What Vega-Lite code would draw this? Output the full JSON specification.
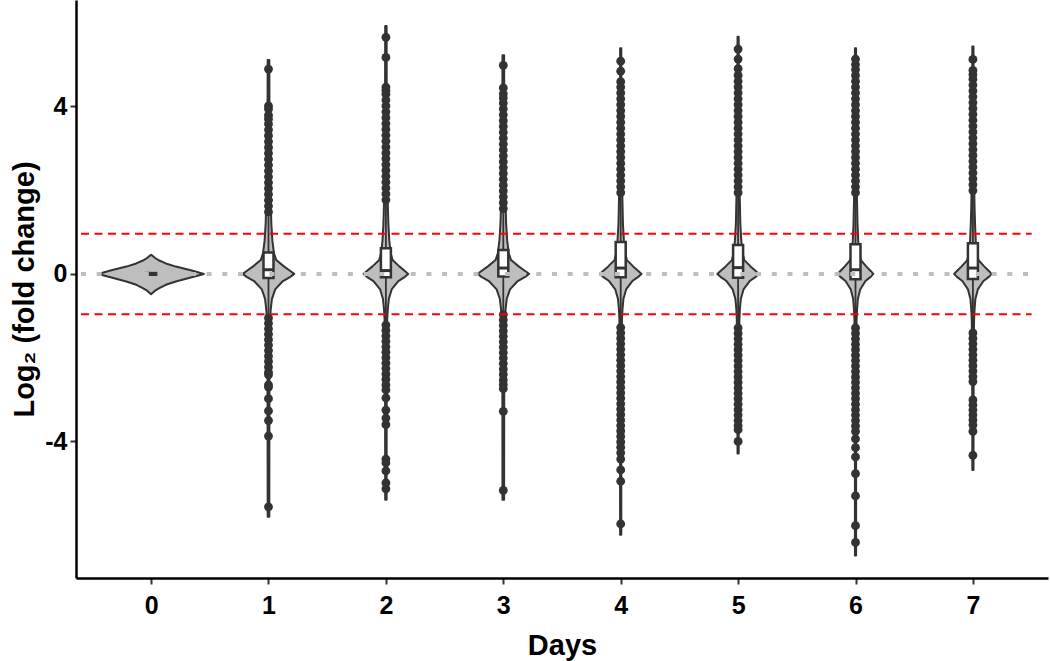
{
  "$schema": "https://vega.github.io/schema/vega-lite/v6.json",
  "width": 972,
  "height": 578,
  "autosize": {"type": "none"},
  "padding": {"left": 76, "top": 0, "right": 2, "bottom": 83},
  "background": "white",
  "config": {"view": {"stroke": null}, "font": "Liberation Sans"},
  "datasets": {
    "violin": [
      {"day":0,"value":0.455,"lo":0,"hi":0},{"day":0,"value":0.43,"lo":-0.014,"hi":0.014},{"day":0,"value":0.38,"lo":-0.034,"hi":0.034},{"day":0,"value":0.32,"lo":-0.07,"hi":0.07},{"day":0,"value":0.25,"lo":-0.126,"hi":0.126},{"day":0,"value":0.175,"lo":-0.211,"hi":0.211},{"day":0,"value":0.08,"lo":-0.346,"hi":0.346},{"day":0,"value":0,"lo":-0.45,"hi":0.45},{"day":0,"value":-0.08,"lo":-0.346,"hi":0.346},{"day":0,"value":-0.18,"lo":-0.211,"hi":0.211},{"day":0,"value":-0.26,"lo":-0.126,"hi":0.126},{"day":0,"value":-0.34,"lo":-0.07,"hi":0.07},{"day":0,"value":-0.4,"lo":-0.034,"hi":0.034},{"day":0,"value":-0.45,"lo":-0.014,"hi":0.014},{"day":0,"value":-0.485,"lo":0,"hi":0},
      {"day":1,"value":5.11,"lo":0.993,"hi":1.007},{"day":1,"value":3,"lo":0.991,"hi":1.009},{"day":1,"value":2.2,"lo":0.987,"hi":1.013},{"day":1,"value":1.6,"lo":0.98,"hi":1.02},{"day":1,"value":1.2,"lo":0.976,"hi":1.024},{"day":1,"value":0.8,"lo":0.967,"hi":1.033},{"day":1,"value":0.5,"lo":0.954,"hi":1.046},{"day":1,"value":0.33,"lo":0.934,"hi":1.066},{"day":1,"value":0.18,"lo":0.869,"hi":1.131},{"day":1,"value":0.07,"lo":0.814,"hi":1.186},{"day":1,"value":0,"lo":0.781,"hi":1.219},{"day":1,"value":-0.07,"lo":0.814,"hi":1.186},{"day":1,"value":-0.17,"lo":0.877,"hi":1.123},{"day":1,"value":-0.37,"lo":0.943,"hi":1.057},{"day":1,"value":-0.6,"lo":0.971,"hi":1.029},{"day":1,"value":-0.85,"lo":0.981,"hi":1.019},{"day":1,"value":-1.1,"lo":0.987,"hi":1.013},{"day":1,"value":-1.6,"lo":0.99,"hi":1.01},{"day":1,"value":-2.5,"lo":0.992,"hi":1.008},{"day":1,"value":-5.8,"lo":0.993,"hi":1.007},
      {"day":2,"value":5.92,"lo":1.994,"hi":2.006},{"day":2,"value":3,"lo":1.992,"hi":2.008},{"day":2,"value":2.2,"lo":1.989,"hi":2.011},{"day":2,"value":1.6,"lo":1.983,"hi":2.017},{"day":2,"value":1.2,"lo":1.979,"hi":2.021},{"day":2,"value":0.8,"lo":1.971,"hi":2.029},{"day":2,"value":0.5,"lo":1.96,"hi":2.04},{"day":2,"value":0.33,"lo":1.943,"hi":2.057},{"day":2,"value":0.18,"lo":1.886,"hi":2.114},{"day":2,"value":0.07,"lo":1.838,"hi":2.162},{"day":2,"value":0,"lo":1.81,"hi":2.19},{"day":2,"value":-0.07,"lo":1.838,"hi":2.162},{"day":2,"value":-0.17,"lo":1.894,"hi":2.106},{"day":2,"value":-0.37,"lo":1.951,"hi":2.049},{"day":2,"value":-0.6,"lo":1.975,"hi":2.025},{"day":2,"value":-0.85,"lo":1.984,"hi":2.016},{"day":2,"value":-1.1,"lo":1.989,"hi":2.011},{"day":2,"value":-1.6,"lo":1.991,"hi":2.009},{"day":2,"value":-2.5,"lo":1.993,"hi":2.007},{"day":2,"value":-5.39,"lo":1.994,"hi":2.006},
      {"day":3,"value":5.22,"lo":2.993,"hi":3.007},{"day":3,"value":3,"lo":2.991,"hi":3.009},{"day":3,"value":2.2,"lo":2.987,"hi":3.013},{"day":3,"value":1.6,"lo":2.98,"hi":3.02},{"day":3,"value":1.2,"lo":2.976,"hi":3.024},{"day":3,"value":0.8,"lo":2.967,"hi":3.033},{"day":3,"value":0.5,"lo":2.954,"hi":3.046},{"day":3,"value":0.33,"lo":2.934,"hi":3.066},{"day":3,"value":0.18,"lo":2.869,"hi":3.131},{"day":3,"value":0.07,"lo":2.814,"hi":3.186},{"day":3,"value":0,"lo":2.781,"hi":3.219},{"day":3,"value":-0.07,"lo":2.814,"hi":3.186},{"day":3,"value":-0.17,"lo":2.877,"hi":3.123},{"day":3,"value":-0.37,"lo":2.943,"hi":3.057},{"day":3,"value":-0.6,"lo":2.971,"hi":3.029},{"day":3,"value":-0.85,"lo":2.981,"hi":3.019},{"day":3,"value":-1.1,"lo":2.987,"hi":3.013},{"day":3,"value":-1.6,"lo":2.99,"hi":3.01},{"day":3,"value":-2.5,"lo":2.992,"hi":3.008},{"day":3,"value":-5.39,"lo":2.993,"hi":3.007},
      {"day":4,"value":5.39,"lo":3.995,"hi":4.005},{"day":4,"value":3,"lo":3.993,"hi":4.007},{"day":4,"value":2.2,"lo":3.989,"hi":4.011},{"day":4,"value":1.6,"lo":3.984,"hi":4.016},{"day":4,"value":1.2,"lo":3.981,"hi":4.019},{"day":4,"value":0.8,"lo":3.973,"hi":4.027},{"day":4,"value":0.5,"lo":3.963,"hi":4.037},{"day":4,"value":0.33,"lo":3.947,"hi":4.053},{"day":4,"value":0.18,"lo":3.894,"hi":4.106},{"day":4,"value":0.07,"lo":3.85,"hi":4.15},{"day":4,"value":0,"lo":3.823,"hi":4.177},{"day":4,"value":-0.07,"lo":3.85,"hi":4.15},{"day":4,"value":-0.17,"lo":3.901,"hi":4.099},{"day":4,"value":-0.37,"lo":3.954,"hi":4.046},{"day":4,"value":-0.6,"lo":3.977,"hi":4.023},{"day":4,"value":-0.85,"lo":3.985,"hi":4.015},{"day":4,"value":-1.1,"lo":3.989,"hi":4.011},{"day":4,"value":-1.6,"lo":3.992,"hi":4.008},{"day":4,"value":-2.5,"lo":3.994,"hi":4.006},{"day":4,"value":-6.23,"lo":3.995,"hi":4.005},
      {"day":5,"value":5.66,"lo":4.995,"hi":5.005},{"day":5,"value":3,"lo":4.993,"hi":5.007},{"day":5,"value":2.2,"lo":4.989,"hi":5.011},{"day":5,"value":1.6,"lo":4.984,"hi":5.016},{"day":5,"value":1.2,"lo":4.981,"hi":5.019},{"day":5,"value":0.8,"lo":4.973,"hi":5.027},{"day":5,"value":0.5,"lo":4.963,"hi":5.037},{"day":5,"value":0.33,"lo":4.947,"hi":5.053},{"day":5,"value":0.18,"lo":4.894,"hi":5.106},{"day":5,"value":0.07,"lo":4.85,"hi":5.15},{"day":5,"value":0,"lo":4.823,"hi":5.177},{"day":5,"value":-0.07,"lo":4.85,"hi":5.15},{"day":5,"value":-0.17,"lo":4.901,"hi":5.099},{"day":5,"value":-0.37,"lo":4.954,"hi":5.046},{"day":5,"value":-0.6,"lo":4.977,"hi":5.023},{"day":5,"value":-0.85,"lo":4.985,"hi":5.015},{"day":5,"value":-1.1,"lo":4.989,"hi":5.011},{"day":5,"value":-1.6,"lo":4.992,"hi":5.008},{"day":5,"value":-2.5,"lo":4.994,"hi":5.006},{"day":5,"value":-4.29,"lo":4.995,"hi":5.005},
      {"day":6,"value":5.39,"lo":5.995,"hi":6.005},{"day":6,"value":3,"lo":5.994,"hi":6.006},{"day":6,"value":2.2,"lo":5.991,"hi":6.009},{"day":6,"value":1.6,"lo":5.986,"hi":6.014},{"day":6,"value":1.2,"lo":5.983,"hi":6.017},{"day":6,"value":0.8,"lo":5.977,"hi":6.023},{"day":6,"value":0.5,"lo":5.968,"hi":6.032},{"day":6,"value":0.33,"lo":5.954,"hi":6.046},{"day":6,"value":0.18,"lo":5.909,"hi":6.091},{"day":6,"value":0.07,"lo":5.871,"hi":6.129},{"day":6,"value":0,"lo":5.848,"hi":6.152},{"day":6,"value":-0.07,"lo":5.871,"hi":6.129},{"day":6,"value":-0.17,"lo":5.915,"hi":6.085},{"day":6,"value":-0.37,"lo":5.96,"hi":6.04},{"day":6,"value":-0.6,"lo":5.98,"hi":6.02},{"day":6,"value":-0.85,"lo":5.987,"hi":6.013},{"day":6,"value":-1.1,"lo":5.991,"hi":6.009},{"day":6,"value":-1.6,"lo":5.993,"hi":6.007},{"day":6,"value":-2.5,"lo":5.995,"hi":6.005},{"day":6,"value":-6.72,"lo":5.995,"hi":6.005},
      {"day":7,"value":5.43,"lo":6.995,"hi":7.005},{"day":7,"value":3,"lo":6.994,"hi":7.006},{"day":7,"value":2.2,"lo":6.99,"hi":7.01},{"day":7,"value":1.6,"lo":6.986,"hi":7.014},{"day":7,"value":1.2,"lo":6.982,"hi":7.018},{"day":7,"value":0.8,"lo":6.976,"hi":7.024},{"day":7,"value":0.5,"lo":6.966,"hi":7.034},{"day":7,"value":0.33,"lo":6.952,"hi":7.048},{"day":7,"value":0.18,"lo":6.904,"hi":7.096},{"day":7,"value":0.07,"lo":6.864,"hi":7.136},{"day":7,"value":0,"lo":6.84,"hi":7.16},{"day":7,"value":-0.07,"lo":6.864,"hi":7.136},{"day":7,"value":-0.17,"lo":6.91,"hi":7.09},{"day":7,"value":-0.37,"lo":6.958,"hi":7.042},{"day":7,"value":-0.6,"lo":6.979,"hi":7.021},{"day":7,"value":-0.85,"lo":6.986,"hi":7.014},{"day":7,"value":-1.1,"lo":6.99,"hi":7.01},{"day":7,"value":-1.6,"lo":6.993,"hi":7.007},{"day":7,"value":-2.5,"lo":6.994,"hi":7.006},{"day":7,"value":-4.68,"lo":6.995,"hi":7.005}
    ],
    "box": [
      {"day":0,"q1":-0.02,"median":0,"q3":0.02,"min":0,"max":0},
      {"day":1,"q1":-0.1,"median":0.1,"q3":0.51,"min":-5.8,"max":5.11},
      {"day":2,"q1":-0.08,"median":0.08,"q3":0.61,"min":-5.39,"max":5.92},
      {"day":3,"q1":-0.06,"median":0.14,"q3":0.57,"min":-5.39,"max":5.22},
      {"day":4,"q1":-0.08,"median":0.14,"q3":0.76,"min":-6.23,"max":5.39},
      {"day":5,"q1":-0.09,"median":0.15,"q3":0.69,"min":-4.29,"max":5.66},
      {"day":6,"q1":-0.13,"median":0.1,"q3":0.71,"min":-6.72,"max":5.39},
      {"day":7,"q1":-0.12,"median":0.14,"q3":0.73,"min":-4.68,"max":5.43}
    ],
    "outliers": [
      {"day":1,"value":4.89},{"day":1,"value":4.01},{"day":1,"value":3.94},{"day":1,"value":3.79},{"day":1,"value":3.7},{"day":1,"value":3.58},{"day":1,"value":3.44},{"day":1,"value":3.3},{"day":1,"value":3.16},{"day":1,"value":3.02},{"day":1,"value":2.88},{"day":1,"value":2.74},{"day":1,"value":2.6},{"day":1,"value":2.46},{"day":1,"value":2.32},{"day":1,"value":2.18},{"day":1,"value":2.04},{"day":1,"value":1.9},{"day":1,"value":1.76},{"day":1,"value":1.62},{"day":1,"value":1.48},{"day":1,"value":-1.05},{"day":1,"value":-1.18},{"day":1,"value":-1.31},{"day":1,"value":-1.44},{"day":1,"value":-1.57},{"day":1,"value":-1.7},{"day":1,"value":-1.83},{"day":1,"value":-1.96},{"day":1,"value":-2.09},{"day":1,"value":-2.22},{"day":1,"value":-2.35},{"day":1,"value":-2.41},{"day":1,"value":-2.65},{"day":1,"value":-2.7},{"day":1,"value":-2.98},{"day":1,"value":-3.27},{"day":1,"value":-3.5},{"day":1,"value":-3.87},{"day":1,"value":-5.56},
      {"day":2,"value":5.65},{"day":2,"value":5.17},{"day":2,"value":4.46},{"day":2,"value":4.38},{"day":2,"value":4.29},{"day":2,"value":4.15},{"day":2,"value":4.01},{"day":2,"value":3.87},{"day":2,"value":3.73},{"day":2,"value":3.59},{"day":2,"value":3.45},{"day":2,"value":3.31},{"day":2,"value":3.17},{"day":2,"value":3.03},{"day":2,"value":2.89},{"day":2,"value":2.75},{"day":2,"value":2.61},{"day":2,"value":2.47},{"day":2,"value":2.33},{"day":2,"value":2.19},{"day":2,"value":2.05},{"day":2,"value":1.91},{"day":2,"value":1.77},{"day":2,"value":-1.22},{"day":2,"value":-1.35},{"day":2,"value":-1.48},{"day":2,"value":-1.61},{"day":2,"value":-1.74},{"day":2,"value":-1.87},{"day":2,"value":-2.0},{"day":2,"value":-2.13},{"day":2,"value":-2.26},{"day":2,"value":-2.39},{"day":2,"value":-2.52},{"day":2,"value":-2.65},{"day":2,"value":-2.77},{"day":2,"value":-2.96},{"day":2,"value":-3.25},{"day":2,"value":-3.44},{"day":2,"value":-3.6},{"day":2,"value":-4.42},{"day":2,"value":-4.51},{"day":2,"value":-4.7},{"day":2,"value":-4.99},{"day":2,"value":-5.13},
      {"day":3,"value":4.98},{"day":3,"value":4.44},{"day":3,"value":4.3},{"day":3,"value":4.2},{"day":3,"value":4.08},{"day":3,"value":3.94},{"day":3,"value":3.8},{"day":3,"value":3.66},{"day":3,"value":3.52},{"day":3,"value":3.38},{"day":3,"value":3.24},{"day":3,"value":3.1},{"day":3,"value":2.96},{"day":3,"value":2.82},{"day":3,"value":2.68},{"day":3,"value":2.54},{"day":3,"value":2.4},{"day":3,"value":2.26},{"day":3,"value":2.12},{"day":3,"value":1.98},{"day":3,"value":1.84},{"day":3,"value":1.7},{"day":3,"value":1.56},{"day":3,"value":-0.97},{"day":3,"value":-1.1},{"day":3,"value":-1.23},{"day":3,"value":-1.36},{"day":3,"value":-1.49},{"day":3,"value":-1.62},{"day":3,"value":-1.75},{"day":3,"value":-1.88},{"day":3,"value":-2.01},{"day":3,"value":-2.14},{"day":3,"value":-2.27},{"day":3,"value":-2.4},{"day":3,"value":-2.53},{"day":3,"value":-2.64},{"day":3,"value":-2.74},{"day":3,"value":-3.28},{"day":3,"value":-5.17},
      {"day":4,"value":5.08},{"day":4,"value":4.84},{"day":4,"value":4.59},{"day":4,"value":4.46},{"day":4,"value":4.32},{"day":4,"value":4.18},{"day":4,"value":4.04},{"day":4,"value":3.9},{"day":4,"value":3.76},{"day":4,"value":3.62},{"day":4,"value":3.48},{"day":4,"value":3.34},{"day":4,"value":3.2},{"day":4,"value":3.06},{"day":4,"value":2.92},{"day":4,"value":2.78},{"day":4,"value":2.64},{"day":4,"value":2.5},{"day":4,"value":2.36},{"day":4,"value":2.22},{"day":4,"value":2.08},{"day":4,"value":1.94},{"day":4,"value":-1.28},{"day":4,"value":-1.41},{"day":4,"value":-1.54},{"day":4,"value":-1.67},{"day":4,"value":-1.8},{"day":4,"value":-1.93},{"day":4,"value":-2.06},{"day":4,"value":-2.19},{"day":4,"value":-2.32},{"day":4,"value":-2.45},{"day":4,"value":-2.58},{"day":4,"value":-2.71},{"day":4,"value":-2.84},{"day":4,"value":-2.97},{"day":4,"value":-3.1},{"day":4,"value":-3.23},{"day":4,"value":-3.36},{"day":4,"value":-3.49},{"day":4,"value":-3.62},{"day":4,"value":-3.75},{"day":4,"value":-3.88},{"day":4,"value":-4.01},{"day":4,"value":-4.14},{"day":4,"value":-4.27},{"day":4,"value":-4.42},{"day":4,"value":-4.68},{"day":4,"value":-4.95},{"day":4,"value":-5.97},
      {"day":5,"value":5.37},{"day":5,"value":5.13},{"day":5,"value":4.9},{"day":5,"value":4.74},{"day":5,"value":4.6},{"day":5,"value":4.46},{"day":5,"value":4.32},{"day":5,"value":4.18},{"day":5,"value":4.04},{"day":5,"value":3.9},{"day":5,"value":3.76},{"day":5,"value":3.62},{"day":5,"value":3.48},{"day":5,"value":3.34},{"day":5,"value":3.2},{"day":5,"value":3.06},{"day":5,"value":2.92},{"day":5,"value":2.78},{"day":5,"value":2.64},{"day":5,"value":2.5},{"day":5,"value":2.36},{"day":5,"value":2.22},{"day":5,"value":2.08},{"day":5,"value":1.94},{"day":5,"value":-1.29},{"day":5,"value":-1.42},{"day":5,"value":-1.55},{"day":5,"value":-1.68},{"day":5,"value":-1.81},{"day":5,"value":-1.94},{"day":5,"value":-2.07},{"day":5,"value":-2.2},{"day":5,"value":-2.33},{"day":5,"value":-2.46},{"day":5,"value":-2.59},{"day":5,"value":-2.72},{"day":5,"value":-2.85},{"day":5,"value":-2.98},{"day":5,"value":-3.11},{"day":5,"value":-3.24},{"day":5,"value":-3.37},{"day":5,"value":-3.5},{"day":5,"value":-3.62},{"day":5,"value":-3.72},{"day":5,"value":-4.0},
      {"day":6,"value":5.13},{"day":6,"value":5.0},{"day":6,"value":4.88},{"day":6,"value":4.74},{"day":6,"value":4.6},{"day":6,"value":4.46},{"day":6,"value":4.32},{"day":6,"value":4.18},{"day":6,"value":4.04},{"day":6,"value":3.9},{"day":6,"value":3.76},{"day":6,"value":3.62},{"day":6,"value":3.48},{"day":6,"value":3.34},{"day":6,"value":3.2},{"day":6,"value":3.06},{"day":6,"value":2.92},{"day":6,"value":2.78},{"day":6,"value":2.64},{"day":6,"value":2.5},{"day":6,"value":2.36},{"day":6,"value":2.22},{"day":6,"value":2.08},{"day":6,"value":1.94},{"day":6,"value":-1.29},{"day":6,"value":-1.42},{"day":6,"value":-1.55},{"day":6,"value":-1.68},{"day":6,"value":-1.81},{"day":6,"value":-1.94},{"day":6,"value":-2.07},{"day":6,"value":-2.2},{"day":6,"value":-2.33},{"day":6,"value":-2.46},{"day":6,"value":-2.59},{"day":6,"value":-2.72},{"day":6,"value":-2.85},{"day":6,"value":-2.98},{"day":6,"value":-3.11},{"day":6,"value":-3.24},{"day":6,"value":-3.37},{"day":6,"value":-3.5},{"day":6,"value":-3.63},{"day":6,"value":-3.76},{"day":6,"value":-3.94},{"day":6,"value":-4.15},{"day":6,"value":-4.37},{"day":6,"value":-4.77},{"day":6,"value":-5.3},{"day":6,"value":-6.01},{"day":6,"value":-6.41},
      {"day":7,"value":5.12},{"day":7,"value":4.86},{"day":7,"value":4.76},{"day":7,"value":4.65},{"day":7,"value":4.51},{"day":7,"value":4.37},{"day":7,"value":4.23},{"day":7,"value":4.09},{"day":7,"value":3.95},{"day":7,"value":3.81},{"day":7,"value":3.67},{"day":7,"value":3.53},{"day":7,"value":3.39},{"day":7,"value":3.25},{"day":7,"value":3.11},{"day":7,"value":2.97},{"day":7,"value":2.83},{"day":7,"value":2.69},{"day":7,"value":2.55},{"day":7,"value":2.41},{"day":7,"value":2.27},{"day":7,"value":2.13},{"day":7,"value":1.99},{"day":7,"value":-1.41},{"day":7,"value":-1.54},{"day":7,"value":-1.67},{"day":7,"value":-1.8},{"day":7,"value":-1.93},{"day":7,"value":-2.06},{"day":7,"value":-2.19},{"day":7,"value":-2.32},{"day":7,"value":-2.45},{"day":7,"value":-2.57},{"day":7,"value":-3.01},{"day":7,"value":-3.13},{"day":7,"value":-3.25},{"day":7,"value":-3.37},{"day":7,"value":-3.49},{"day":7,"value":-3.61},{"day":7,"value":-3.76},{"day":7,"value":-4.33}
    ],
    "zero": [{"y": 0, "x1": -0.597, "x2": 7.52}],
    "thresholds": [{"y": 0.96, "x1": -0.597, "x2": 7.5}, {"y": -0.96, "x1": -0.597, "x2": 7.5}]
  },
  "layer": [
    {
      "data": {"name": "violin"},
      "mark": {"type": "area", "orient": "horizontal", "fill": "#bebebe", "stroke": "#333333", "strokeWidth": 2, "strokeJoin": "round"},
      "encoding": {
        "y": {"field": "value", "type": "quantitative", "title": "Log₂ (fold change)",
          "scale": {"domain": [-7.26, 6.54], "nice": false, "zero": false},
          "axis": {"values": [-4, 0, 4], "labelExpr": "replace(datum.label, '−', '-')", "grid": false,
            "domainColor": "black", "domainWidth": 2.5, "tickColor": "#333333", "tickWidth": 2, "tickSize": 6,
            "labelFont": "Liberation Sans", "labelFontWeight": "bold", "labelFontSize": 25, "labelColor": "black", "labelPadding": 3,
            "titleFont": "Liberation Sans", "titleFontWeight": "bold", "titleFontSize": 29, "titleColor": "black", "titlePadding": 5}},
        "x": {"field": "lo", "type": "quantitative", "title": "Days",
          "scale": {"domain": [-0.597, 7.597], "nice": false, "zero": false},
          "axis": {"values": [0, 1, 2, 3, 4, 5, 6, 7], "format": "d", "grid": false,
            "domainColor": "black", "domainWidth": 2.5, "tickColor": "#333333", "tickWidth": 2, "tickSize": 6,
            "labelFont": "Liberation Sans", "labelFontWeight": "bold", "labelFontSize": 25, "labelColor": "black", "labelPadding": 9,
            "titleFont": "Liberation Sans", "titleFontWeight": "bold", "titleFontSize": 29, "titleColor": "black", "titlePadding": 13}},
        "x2": {"field": "hi"},
        "detail": {"field": "day"}
      }
    },
    {
      "data": {"name": "box"},
      "transform": [{"filter": "datum.day > 0"}],
      "mark": {"type": "rule", "color": "#333333", "strokeWidth": 1.8},
      "encoding": {
        "x": {"field": "day", "type": "quantitative", "title": "Days"},
        "y": {"field": "min", "type": "quantitative", "title": "Log₂ (fold change)"},
        "y2": {"field": "max"}
      }
    },
    {
      "data": {"name": "box"},
      "mark": {"type": "bar", "size": 10, "fill": "white", "stroke": "#333333", "strokeWidth": 2.5},
      "encoding": {
        "x": {"field": "day", "type": "quantitative", "title": "Days"},
        "y": {"field": "q1", "type": "quantitative", "title": "Log₂ (fold change)"},
        "y2": {"field": "q3"}
      }
    },
    {
      "data": {"name": "box"},
      "mark": {"type": "tick", "orient": "horizontal", "size": 11, "thickness": 3, "color": "#333333", "opacity": 1},
      "encoding": {
        "x": {"field": "day", "type": "quantitative", "title": "Days"},
        "y": {"field": "median", "type": "quantitative", "title": "Log₂ (fold change)"}
      }
    },
    {
      "data": {"name": "outliers"},
      "mark": {"type": "circle", "size": 78, "color": "#333333", "opacity": 1},
      "encoding": {
        "x": {"field": "day", "type": "quantitative", "title": "Days"},
        "y": {"field": "value", "type": "quantitative", "title": "Log₂ (fold change)"}
      }
    },
    {
      "data": {"name": "zero"},
      "mark": {"type": "rule", "color": "#bebebe", "strokeWidth": 4, "strokeDash": [5, 10.7]},
      "encoding": {
        "x": {"field": "x1", "type": "quantitative", "title": "Days"},
        "x2": {"field": "x2"},
        "y": {"field": "y", "type": "quantitative", "title": "Log₂ (fold change)"}
      }
    },
    {
      "data": {"name": "thresholds"},
      "mark": {"type": "rule", "color": "#ff0000", "strokeWidth": 2, "strokeDash": [8, 5.5]},
      "encoding": {
        "x": {"field": "x1", "type": "quantitative", "title": "Days"},
        "x2": {"field": "x2"},
        "y": {"field": "y", "type": "quantitative", "title": "Log₂ (fold change)"}
      }
    }
  ]
}
